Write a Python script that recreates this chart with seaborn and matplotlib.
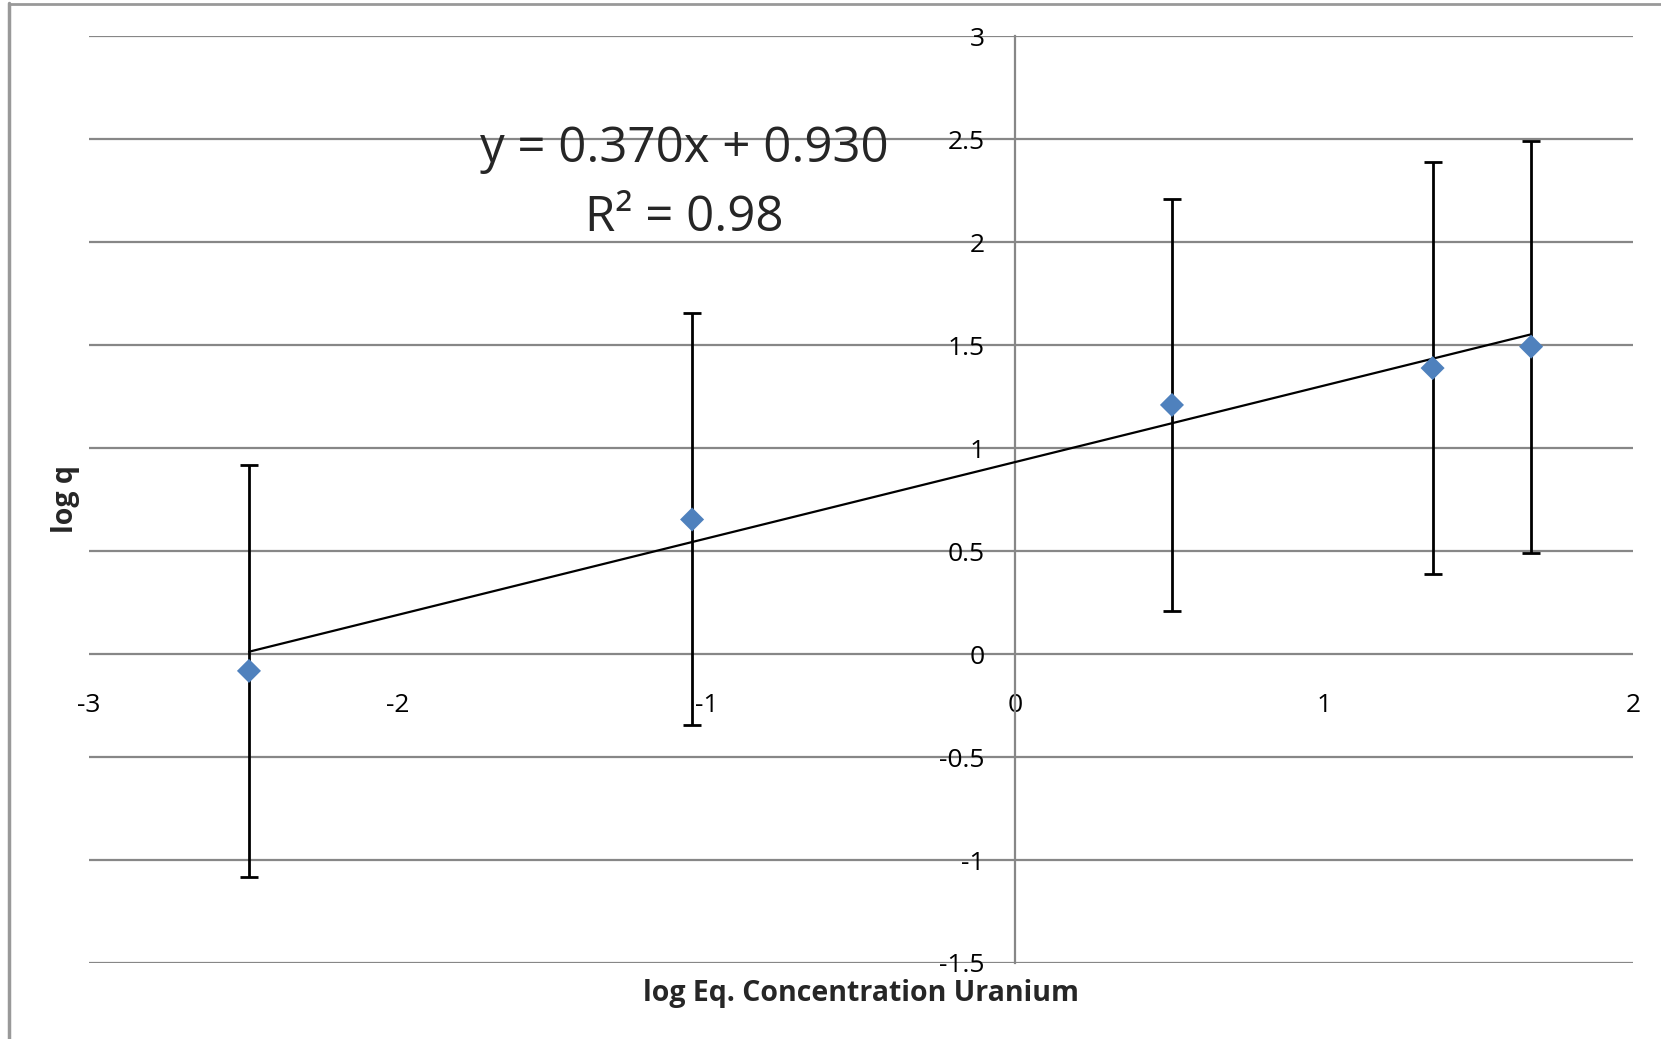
import numpy as np
import pandas as pd
import matplotlib
matplotlib.use("Agg")
import matplotlib.pyplot as plt
import seaborn as sns

# Data
log_conc = [-2.482, -1.047, 0.507, 1.351, 1.670]
log_q = [-0.082, 0.653, 1.209, 1.388, 1.492]
err = [1.0, 1.0, 1.0, 1.0, 1.0]
x_ticks = [-3, -2, -1, 0, 1, 2]
y_ticks = [-1.5, -1, -0.5, 0, 0.5, 1, 1.5, 2, 2.5, 3]
y_tick_labels = ["-1.5", "-1", "-0.5", "0", "0.5", "1", "1.5", "2", "2.5", "3"]
eq_text = "y = 0.370x + 0.930"
r2_text = "R² = 0.98"

df = pd.DataFrame({"x": log_conc, "y": log_q})

sns.set_theme(style="white")
plt.rcParams["font.family"] = ["Open Sans", "DejaVu Sans"]

W, H = 1661, 1039
fig = plt.figure(figsize=(W / 100, H / 100), dpi=100)
ax = fig.add_axes([89 / W, 1 - 963 / H, (1633 - 89) / W, (963 - 36) / H])

grid_c = "#878787"
for yt in y_ticks:
    ax.axhline(yt, color=grid_c, lw=1.6, zorder=0)

# error bars
ax.errorbar(log_conc, log_q, yerr=err, fmt="none", ecolor="black",
            elinewidth=2.0, capsize=6.5, capthick=2.0, zorder=2)

# trendline (linear fit)
sns.regplot(data=df, x="x", y="y", ci=None, scatter=False, truncate=True,
            line_kws=dict(color="black", lw=1.6, zorder=3), ax=ax)

# markers
sns.scatterplot(data=df, x="x", y="y", marker="D", s=150, color="#4F81BD",
                edgecolor="none", zorder=4, ax=ax)

ax.set_xlim(-3, 2)
ax.set_ylim(-1.5, 3)

# axes through origin
for s in ["top", "right", "bottom"]:
    ax.spines[s].set_visible(False)
ax.spines["left"].set_position(("data", 0))
ax.spines["left"].set_color(grid_c)
ax.spines["left"].set_linewidth(1.6)
ax.spines["bottom"].set_position(("data", 0))

ax.set_xticks(x_ticks)
ax.set_xticklabels([str(t) for t in x_ticks])
ax.set_yticks(y_ticks)
ax.set_yticklabels(y_tick_labels)
ax.tick_params(axis="both", length=0, labelsize=19, colors="black")
ax.tick_params(axis="y", pad=22)
ax.tick_params(axis="x", pad=28)

ax.set_xlabel("log Eq. Concentration Uranium", fontsize=20.5, fontweight="bold")
ax.set_ylabel("log q", fontsize=20.5, fontweight="bold")
ax.xaxis.label.set_verticalalignment("center")
ax.yaxis.label.set_verticalalignment("center")
ax.xaxis.set_label_coords(0.5, (963 - 993) / 927)
ax.yaxis.set_label_coords((66 - 89) / 1544, 0.5)

ax.text(684 / W, 1 - 149 / H, eq_text, transform=fig.transFigure,
        ha="center", va="center", fontsize=35.5)
ax.text(684 / W, 1 - 218 / H, r2_text, transform=fig.transFigure,
        ha="center", va="center", fontsize=35.5)

# chart area border (left and top)
fig.add_artist(plt.Line2D([9 / W, 9 / W], [0, 1 - 3 / H], color="#999999", lw=2.5,
                          transform=fig.transFigure))
fig.add_artist(plt.Line2D([9 / W, 1], [1 - 4 / H, 1 - 4 / H], color="#999999", lw=2.0,
                          transform=fig.transFigure))

fig.savefig("out.png", dpi=100, facecolor="white")
